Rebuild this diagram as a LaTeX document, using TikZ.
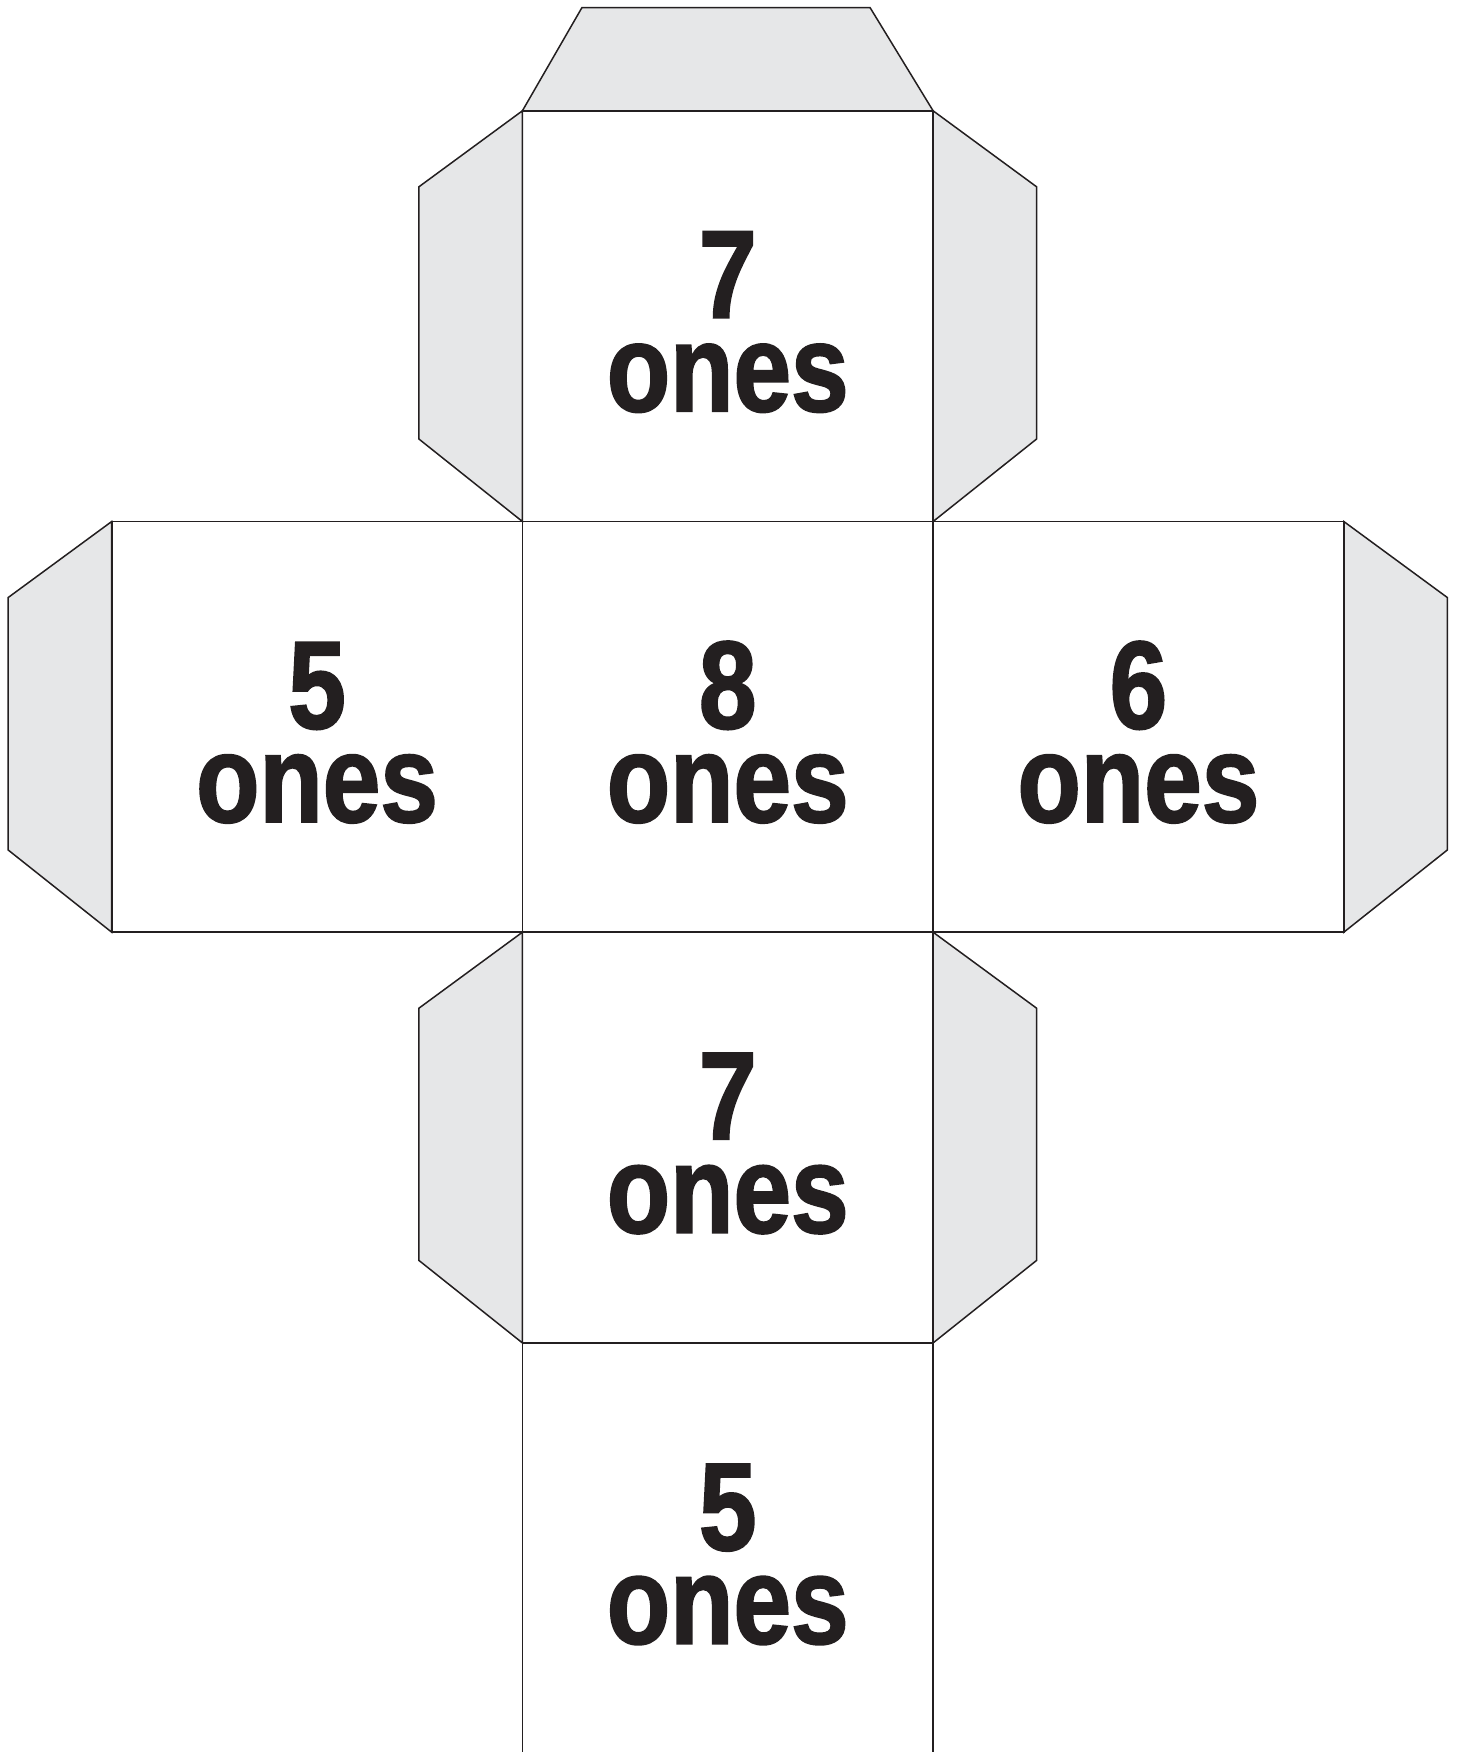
\documentclass[tikz,border=0pt]{standalone}
\usepackage{fontspec}
\newfontfamily\labfont{Liberation Sans}[FakeStretch=0.83, BoldFeatures={FakeBold=1.6}]
\definecolor{ink}{HTML}{231F20}
\definecolor{tabgray}{HTML}{E6E7E8}
\begin{document}
\begin{tikzpicture}[x=0.5pt,y=-0.5pt,
  tabshape/.style={draw=ink, fill=tabgray, line width=0.75pt, line join=miter},
  faceline/.style={draw=ink, line width=0.9pt},
  numlabel/.style={anchor=base, inner sep=0pt, text=ink,
    font=\labfont\bfseries\fontsize{62.4}{70}\selectfont}]
\useasboundingbox (0,0) rectangle (1457,1752);
% tabs
\draw[tabshape] (522.4,110.8) -- (582,7.5) -- (870,7.5) -- (933.1,110.8) -- cycle;
\draw[tabshape] (522.4,110.8) -- (418.9,186.8) -- (418.9,439) -- (522.4,521.5) -- cycle;
\draw[tabshape] (933.1,110.8) -- (1036.6,186.8) -- (1036.6,439) -- (933.1,521.5) -- cycle;
\draw[tabshape] (111.7,521.5) -- (8.2,597.5) -- (8.2,850) -- (111.7,932.2) -- cycle;
\draw[tabshape] (1343.8,521.5) -- (1447.3,597.5) -- (1447.3,850) -- (1343.8,932.2) -- cycle;
\draw[tabshape] (522.4,932.2) -- (418.9,1008.2) -- (418.9,1260.4) -- (522.4,1342.9) -- cycle;
\draw[tabshape] (933.1,932.2) -- (1036.6,1008.2) -- (1036.6,1260.4) -- (933.1,1342.9) -- cycle;
% faces
\draw[faceline] (522.4,110.8) rectangle (933.1,521.5);
\draw[faceline] (111.7,521.5) rectangle (522.4,932.2);
\draw[faceline] (522.4,521.5) rectangle (933.1,932.2);
\draw[faceline] (933.1,521.5) rectangle (1343.8,932.2);
\draw[faceline] (522.4,932.2) rectangle (933.1,1342.9);
\draw[faceline] (522.4,1342.9) -- (522.4,1760);
\draw[faceline] (933.1,1342.9) -- (933.1,1760);
% labels
\node[numlabel] (d1) at (727.75,317.6) {7};
\node[numlabel] (o1) at (727.75,411.2) {ones};
\node[numlabel] (d2) at (317.05,728.3) {5};
\node[numlabel] (o2) at (317.05,821.9) {ones};
\node[numlabel] (d3) at (727.75,728.3) {8};
\node[numlabel] (o3) at (727.75,821.9) {ones};
\node[numlabel] (d4) at (1138.45,728.3) {6};
\node[numlabel] (o4) at (1138.45,821.9) {ones};
\node[numlabel] (d5) at (727.75,1139) {7};
\node[numlabel] (o5) at (727.75,1232.6) {ones};
\node[numlabel] (d6) at (727.75,1549.9) {5};
\node[numlabel] (o6) at (727.75,1643.5) {ones};
\end{tikzpicture}
\end{document}
